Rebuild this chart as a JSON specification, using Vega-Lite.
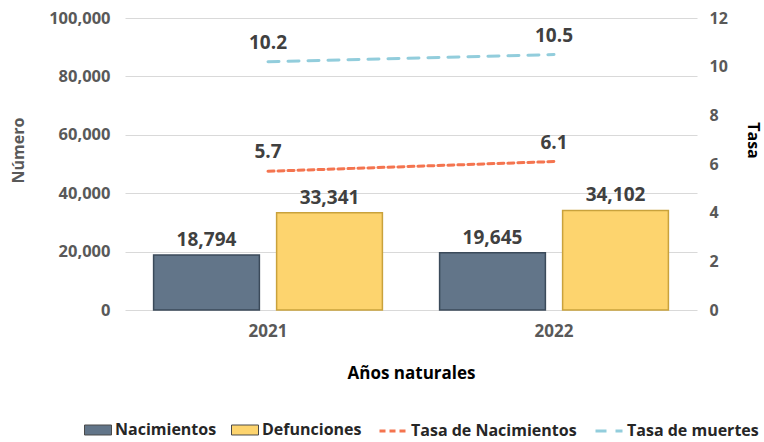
{
  "$schema": "https://vega.github.io/schema/vega-lite/v6.json",
  "width": 572,
  "height": 292,
  "autosize": "none",
  "padding": {"left": 125, "top": 18, "right": 67, "bottom": 132},
  "background": "white",
  "config": {
    "view": {"stroke": null},
    "font": "Open Sans",
    "axis": {"labelFont": "Open Sans", "titleFont": "Open Sans", "labelFontWeight": "bold", "titleFontWeight": "bold"},
    "legend": {"labelFont": "Open Sans", "labelFontWeight": "bold", "labelFontSize": 16, "labelColor": "#262626", "labelLimit": 0, "symbolSize": 729, "labelOffset": 3, "columnPadding": 12, "symbolOpacity": 1}
  },
  "datasets": {
    "bars": [
      {"anio": "2021", "serie": "Nacimientos", "valor": 18794},
      {"anio": "2021", "serie": "Defunciones", "valor": 33341},
      {"anio": "2022", "serie": "Nacimientos", "valor": 19645},
      {"anio": "2022", "serie": "Defunciones", "valor": 34102}
    ],
    "rates": [
      {"anio": "2021", "serie": "Tasa de Nacimientos", "tasa": 5.7},
      {"anio": "2022", "serie": "Tasa de Nacimientos", "tasa": 6.1},
      {"anio": "2021", "serie": "Tasa de muertes", "tasa": 10.2},
      {"anio": "2022", "serie": "Tasa de muertes", "tasa": 10.5}
    ]
  },
  "encoding": {
    "x": {
      "field": "anio", "type": "nominal",
      "scale": {"paddingInner": 0.2, "paddingOuter": 0.1},
      "axis": {
        "title": "Años naturales", "labelAngle": 0, "domain": false, "ticks": false,
        "labelPadding": 13, "labelFontSize": 17, "labelColor": "#595959",
        "titleFontSize": 17, "titleColor": "#000000", "titleY": 55, "titleBaseline": "top"
      }
    }
  },
  "layer": [
    {
      "data": {"name": "bars"},
      "encoding": {
        "xOffset": {"field": "serie", "type": "nominal", "sort": ["Nacimientos", "Defunciones"], "scale": {"paddingInner": 0.14, "paddingOuter": 0}},
        "y": {
          "field": "valor", "type": "quantitative",
          "scale": {"domain": [0, 100000], "nice": false},
          "axis": {
            "title": "Número", "values": [0, 20000, 40000, 60000, 80000, 100000],
            "labelExpr": "format(datum.value, ',')",
            "domain": false, "ticks": false, "grid": true, "gridColor": "#d9d9d9", "gridWidth": 1,
            "labelPadding": 15, "labelFontSize": 16.5, "labelColor": "#595959",
            "titleFontSize": 16, "titleColor": "#595959", "titleX": -107, "titleY": 132, "titleBaseline": "middle", "titleAlign": "center"
          }
        }
      },
      "layer": [
        {
          "mark": {"type": "bar", "strokeWidth": 1.5},
          "encoding": {
            "fill": {
              "field": "serie", "type": "nominal",
              "scale": {"domain": ["Nacimientos", "Defunciones"], "range": ["#627589", "#fdd46e"]},
              "legend": {
                "title": null, "orient": "none", "direction": "horizontal",
                "legendX": -41, "legendY": 398,
                "symbolType": "M-1,-0.37H1V0.37H-1Z",
                "symbolStrokeColor": "#4a4a4a", "symbolStrokeWidth": 1
              }
            },
            "stroke": {
              "condition": {"test": "datum.serie === 'Nacimientos'", "value": "#3b4a5a"},
              "value": "#c9a23c"
            }
          }
        },
        {
          "mark": {"type": "text", "baseline": "bottom", "dy": -5, "fontSize": 19, "fontWeight": "bold", "color": "#404040", "font": "Open Sans"},
          "encoding": {
            "text": {"field": "valor", "type": "quantitative", "format": ","}
          }
        }
      ]
    },
    {
      "data": {"name": "rates"},
      "encoding": {
        "y": {
          "field": "tasa", "type": "quantitative",
          "scale": {"domain": [0, 12], "nice": false},
          "axis": {
            "orient": "right", "title": "Tasa", "values": [0, 2, 4, 6, 8, 10, 12],
            "domain": false, "ticks": false, "grid": false,
            "labelPadding": 12, "labelFontSize": 16, "labelColor": "#595959",
            "titleFontSize": 16, "titleColor": "#000000", "titleX": 55, "titleY": 122, "titleBaseline": "middle", "titleAlign": "center", "titleAngle": 90
          }
        }
      },
      "layer": [
        {
          "mark": {"type": "line", "strokeWidth": 3, "strokeCap": "round"},
          "encoding": {
            "stroke": {
              "field": "serie", "type": "nominal",
              "scale": {"domain": ["Tasa de Nacimientos", "Tasa de muertes"], "range": ["#f4744f", "#92cddc"]},
              "legend": {
                "title": null, "orient": "none", "direction": "horizontal",
                "legendX": 253, "legendY": 398,
                "symbolType": "stroke", "symbolStrokeWidth": 3
              }
            },
            "strokeDash": {
              "field": "serie", "type": "nominal",
              "scale": {"domain": ["Tasa de Nacimientos", "Tasa de muertes"], "range": [[6, 4], [11, 9]]},
              "legend": {
                "title": null, "orient": "none", "direction": "horizontal",
                "legendX": 253, "legendY": 398,
                "symbolType": "stroke", "symbolStrokeWidth": 3
              }
            }
          }
        },
        {
          "mark": {"type": "text", "baseline": "bottom", "dy": -9, "fontSize": 19, "fontWeight": "bold", "color": "#404040", "font": "Open Sans"},
          "encoding": {
            "text": {"field": "tasa", "type": "quantitative", "format": ".1f"}
          }
        }
      ]
    }
  ],
  "resolve": {"scale": {"y": "independent"}}
}
